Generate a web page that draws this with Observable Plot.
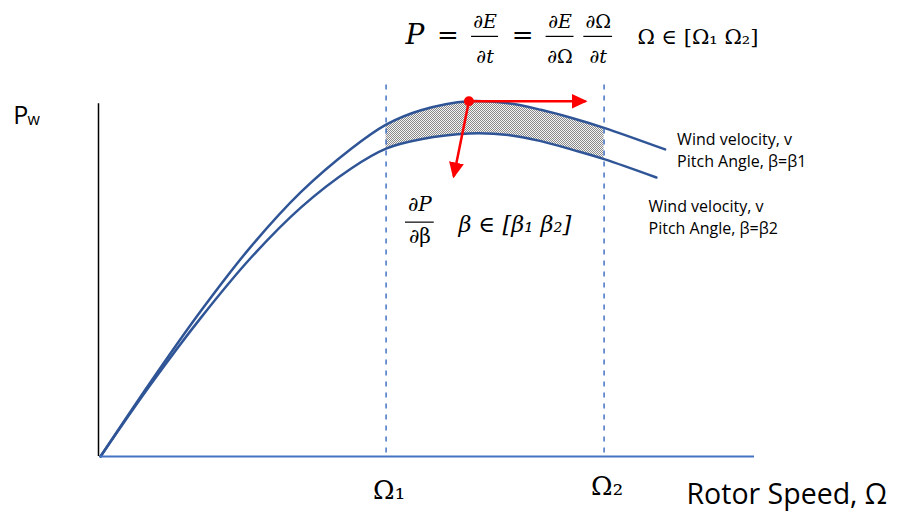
<!DOCTYPE html>
<html>
<head>
<meta charset="utf-8">
<script src="https://cdn.jsdelivr.net/npm/d3@7"></script>
<script src="https://cdn.jsdelivr.net/npm/@observablehq/plot@0.6"></script>
<style>
  html, body { margin: 0; padding: 0; background: #fff; }
  #chart svg { display: block; }
</style>
</head>
<body>
<div id="chart"></div>
<script>
// Power vs rotor speed for one wind velocity, at two pitch angles
const omegaBeta1 = [0, 2.3, 4.6, 6.9, 9.2, 11.5, 13.1, 14.7, 16.9, 18.7, 20.2, 21.7, 23.1, 25.9];
const powerBeta1 = [0, 0.207, 0.404, 0.583, 0.735, 0.855, 0.922, 0.962, 0.987, 0.981, 0.963, 0.939, 0.913, 0.853];
const omegaBeta2 = [0, 2.3, 4.6, 6.9, 9.2, 11.5, 13.1, 14.7, 16.9, 18.7, 20.2, 21.7, 23.1, 25.5];
const powerBeta2 = [0, 0.200, 0.385, 0.552, 0.692, 0.800, 0.855, 0.881, 0.897, 0.893, 0.876, 0.851, 0.826, 0.775];

// Operating range of the rotor speed
const omegaRange = [13.1, 23.1];
const omegaTicks = ["Ω₁", "Ω₂"];

// Operating point on the β1 curve and the two sensitivity directions
const operatingPoint = {omega: 16.9, power: 0.987};
const dOmegaTip = {omega: 22.25, power: 0.987};
const dBetaTip = {omega: 16.2, power: 0.778};

const curveLabels = [
  "Wind velocity, v\nPitch Angle, β=β1",
  "Wind velocity, v\nPitch Angle, β=β2"
];

const beta1 = omegaBeta1.map((omega, i) => ({omega, power: powerBeta1[i]}));
const beta2 = omegaBeta2.map((omega, i) => ({omega, power: powerBeta2[i]}));
const band = omegaBeta1
  .map((omega, i) => ({omega, upper: powerBeta1[i], lower: powerBeta2[i]}))
  .filter(d => d.omega >= omegaRange[0] && d.omega <= omegaRange[1]);

const SANS = "'Open Sans', Lato, sans-serif";
const SERIF = "'DejaVu Serif', 'Liberation Serif', serif";
const CURVE = "#2F5597";
const AXIS_BLUE = "#4472C4";
const RED = "#FF0000";
const SMOOTH = "catmull-rom";

// filled triangular arrow head
function solidHead(color) {
  const m = d3.create("svg:marker")
    .attr("viewBox", "0 -8 16 16")
    .attr("markerWidth", 16)
    .attr("markerHeight", 16)
    .attr("markerUnits", "userSpaceOnUse")
    .attr("refX", 14)
    .attr("refY", 0)
    .attr("orient", "auto");
  m.append("path").attr("d", "M0,-7.5L16,0L0,7.5Z").attr("fill", color).attr("stroke", "none");
  return m.node();
}

function txt(s, x, y, o = {}) {
  return Plot.text([s], {x, y, text: d => d, lineAnchor: "bottom", textAnchor: "start", fill: "#000", ...o});
}

function fraction(num, den, xc, half, yBar, size, numDy, denDy, numStyle, denStyle) {
  return [
    Plot.ruleY([yBar], {x1: xc - half, x2: xc + half, stroke: "#000", strokeWidth: 1.2}),
    txt(num, xc, yBar, {textAnchor: "middle", dy: numDy, fontFamily: SERIF, fontSize: size, fontStyle: numStyle}),
    txt(den, xc, yBar, {textAnchor: "middle", dy: denDy, fontFamily: SERIF, fontSize: size, fontStyle: denStyle})
  ];
}

const chart = Plot.plot({
  width: 897,
  height: 513,
  marginTop: 0, marginRight: 0, marginBottom: 0, marginLeft: 0,
  x: {domain: [0, 30], range: [100, 754], axis: null},
  y: {domain: [0, 1], range: [456, 96], axis: null},
  style: {background: "#fff", fontFamily: SANS, overflow: "visible"},
  marks: [
    // shaded band between the two pitch curves over [Ω1, Ω2]
    Plot.areaY(band, {x: "omega", y1: "lower", y2: "upper", curve: SMOOTH, fill: "url(#dots)"}),
    // pitch curves
    Plot.line(beta1, {x: "omega", y: "power", curve: SMOOTH, stroke: CURVE, strokeWidth: 2.5}),
    Plot.line(beta2, {x: "omega", y: "power", curve: SMOOTH, stroke: CURVE, strokeWidth: 2.5}),
    // Ω1 and Ω2 guides
    Plot.ruleX(omegaRange, {y1: 0.01, y2: 1.045, stroke: AXIS_BLUE, strokeWidth: 1.5, strokeDasharray: "5,6"}),
    // axes
    Plot.ruleY([0], {x1: 0, x2: 30, stroke: AXIS_BLUE, strokeWidth: 2}),
    Plot.ruleX([0], {y1: 0, y2: 0.98, stroke: "#000", strokeWidth: 1.5, dx: -2}),
    // sensitivity arrows at the operating point
    Plot.link([0], {x1: () => operatingPoint.omega, y1: () => operatingPoint.power,
                    x2: () => dOmegaTip.omega, y2: () => dOmegaTip.power,
                    stroke: RED, strokeWidth: 2.5, markerEnd: solidHead}),
    Plot.link([0], {x1: () => operatingPoint.omega, y1: () => operatingPoint.power,
                    x2: () => dBetaTip.omega, y2: () => dBetaTip.power,
                    stroke: RED, strokeWidth: 2.5, markerEnd: solidHead}),
    Plot.dot([operatingPoint], {x: "omega", y: "power", r: 5, fill: RED}),
    // y axis title
    txt("P", -4.0, 0.925, {fontSize: 25, fontFamily: SANS}),
    txt("w", -3.35, 0.922, {fontSize: 16, fontFamily: SANS}),
    // x axis title and interval ticks
    txt("Rotor Speed, Ω", 26.88, -0.131, {fontSize: 28.5, fontFamily: SANS}),
    Plot.text(omegaTicks, {x: omegaRange, y: [-0.117, -0.106], text: d => d, lineAnchor: "bottom",
                           textAnchor: "start", dx: -13, fontSize: 26, fontFamily: SERIF}),
    // curve labels
    Plot.text(curveLabels, {x: [26.45, 25.14], y: [0.803, 0.617], text: d => d, lineAnchor: "bottom",
                            textAnchor: "start", fontSize: 16, lineHeight: 1.375, fontFamily: SANS}),
    // power equation
    txt("P", 13.99, 1.147, {fontFamily: SERIF, fontStyle: "italic", fontSize: 28}),
    txt("=", 15.94, 1.147, {fontFamily: SERIF, fontSize: 26, textAnchor: "middle"}),
    ...fraction("∂E", "∂t", 17.64, 0.62, 1.167, 19, -8.5, 27, "italic", "italic"),
    txt("=", 19.36, 1.147, {fontFamily: SERIF, fontSize: 26, textAnchor: "middle"}),
    ...fraction("∂E", "∂Ω", 21.08, 0.64, 1.167, 19, -8.5, 27, "italic", "normal"),
    ...fraction("∂Ω", "∂t", 22.83, 0.66, 1.167, 19, -8.5, 27, "normal", "italic"),
    txt("Ω ∈ [Ω₁ Ω₂]", 24.63, 1.147, {fontFamily: SERIF, fontSize: 21}),
    // pitch sensitivity
    ...fraction("∂P", "∂β", 14.65, 0.66, 0.651, 20, -11, 21, "italic", "normal"),
    txt("β ∈ [β₁ β₂]", 16.42, 0.623, {fontFamily: SERIF, fontSize: 22.5, fontStyle: "italic"})
  ]
});

// fine dotted fill for the band
const defs = d3.select(chart).insert("defs", ":first-child");
const pat = defs.append("pattern").attr("id", "dots")
  .attr("patternUnits", "userSpaceOnUse").attr("width", 2).attr("height", 2);
pat.append("rect").attr("width", 2).attr("height", 2).attr("fill", "#f4f4f4");
pat.append("rect").attr("width", 1).attr("height", 1).attr("fill", "#8a8a8a");
pat.append("rect").attr("x", 1).attr("y", 1).attr("width", 1).attr("height", 1).attr("fill", "#8a8a8a");

document.getElementById("chart").appendChild(chart);
</script>
</body>
</html>
